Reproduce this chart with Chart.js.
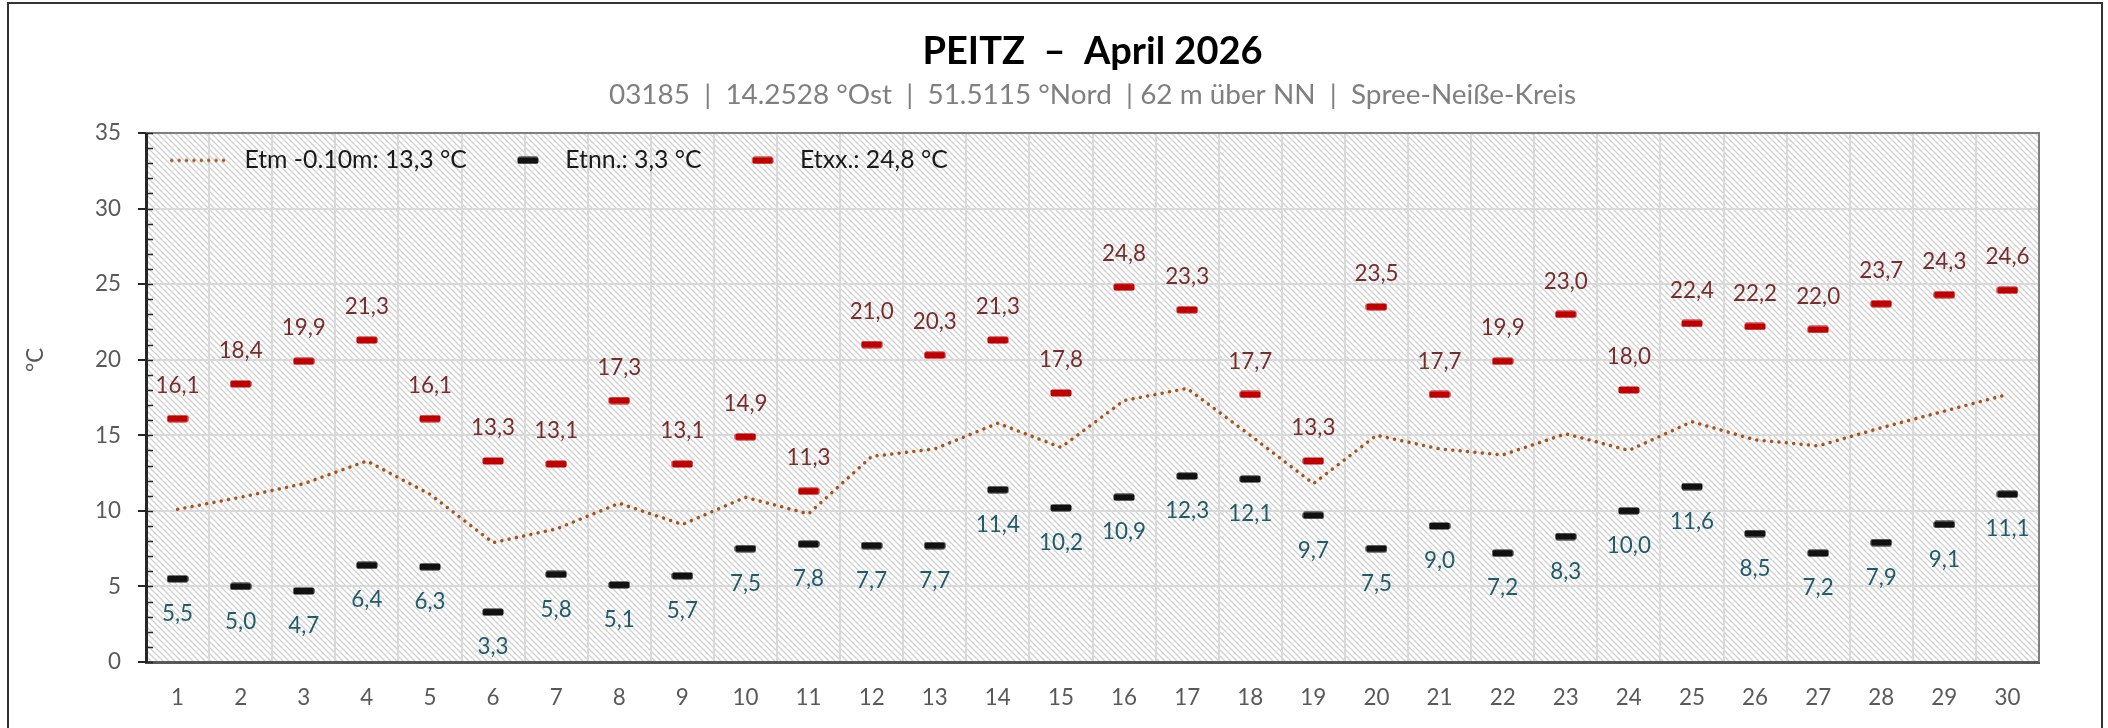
<!DOCTYPE html>
<html>
<head>
<meta charset="utf-8">
<script src="https://cdn.jsdelivr.net/npm/chart.js@4.4.1/dist/chart.umd.min.js"></script>
<style>
  html, body { margin: 0; padding: 0; background: #ffffff; }
  #wrap { position: relative; width: 2108px; height: 728px; }
</style>
</head>
<body>
<div id="wrap"><canvas id="c"></canvas></div>
<script>
// ---------- data ----------
const days = ['1','2','3','4','5','6','7','8','9','10','11','12','13','14','15','16','17','18','19','20','21','22','23','24','25','26','27','28','29','30'];
const etm  = [10.1, 10.9, 11.8, 13.3, 11.1, 7.9, 8.8, 10.5, 9.1, 10.9, 9.8, 13.6, 14.1, 15.8, 14.2, 17.3, 18.1, 15.0, 11.8, 15.0, 14.1, 13.7, 15.1, 14.0, 15.9, 14.7, 14.3, 15.5, 16.6, 17.7];
const etnn = [5.5, 5.0, 4.7, 6.4, 6.3, 3.3, 5.8, 5.1, 5.7, 7.5, 7.8, 7.7, 7.7, 11.4, 10.2, 10.9, 12.3, 12.1, 9.7, 7.5, 9.0, 7.2, 8.3, 10.0, 11.6, 8.5, 7.2, 7.9, 9.1, 11.1];
const etxx = [16.1, 18.4, 19.9, 21.3, 16.1, 13.3, 13.1, 17.3, 13.1, 14.9, 11.3, 21.0, 20.3, 21.3, 17.8, 24.8, 23.3, 17.7, 13.3, 23.5, 17.7, 19.9, 23.0, 18.0, 22.4, 22.2, 22.0, 23.7, 24.3, 24.6];
const seriesNames = ['Etm -0.10m: 13,3 °C', 'Etnn.: 3,3 °C', 'Etxx.: 24,8 °C'];
const yMin = 0, yMax = 35, yStep = 5, yMinorStep = 1;
const titleText = 'PEITZ  –  April 2026';
const subtitleText = '03185  |  14.2528 °Ost  |  51.5115 °Nord  | 62 m über NN  |  Spree-Neiße-Kreis';
const yAxisTitle = '°C';

// ---------- font calibration ----------
const FAM = 'Lato';
const mctx = document.createElement('canvas').getContext('2d');
function fitSize(text, weight, target) {
  mctx.font = weight + ' 100px ' + FAM;
  return Math.round(1000 * target / mctx.measureText(text).width) / 10;
}
const FT = fitSize(titleText, 'bold', 340);
const FS = fitSize(subtitleText, 'normal', 968);
const FL = fitSize(seriesNames[0], 'normal', 223);
const FK = fitSize('30', 'normal', 26);
const FV = fitSize('24,8', 'normal', 44);

// ---------- colours ----------
const C_MEAN = '#A9531A', C_MIN = '#111111', C_MAX = '#C00000';
const C_MINLBL = '#1F5B6B', C_MAXLBL = '#7A2C2C';
const C_TICK = '#595959', C_GRID = '#D9D9D9';

// ---------- marker images ----------
function roundRect(g, x, y, w, h, r) {
  g.beginPath();
  g.moveTo(x + r, y); g.lineTo(x + w - r, y); g.quadraticCurveTo(x + w, y, x + w, y + r);
  g.lineTo(x + w, y + h - r); g.quadraticCurveTo(x + w, y + h, x + w - r, y + h);
  g.lineTo(x + r, y + h); g.quadraticCurveTo(x, y + h, x, y + h - r);
  g.lineTo(x, y + r); g.quadraticCurveTo(x, y, x + r, y); g.closePath(); g.fill();
}
function dashImg(color, w, h, cx) {
  const c = document.createElement('canvas'); c.width = w; c.height = h;
  const g = c.getContext('2d'); g.fillStyle = color;
  roundRect(g, cx - 10.5, h / 2 - 3.5, 21, 7, 2);
  return c;
}
const LW = Math.round(83 - FL / 2);
function dotLineImg(color, w, h) {
  const c = document.createElement('canvas'); c.width = w; c.height = h;
  const g = c.getContext('2d'); g.fillStyle = color;
  for (let x = 9; x + 3.5 <= w; x += 7.4) {
    g.beginPath(); g.arc(x + 1.75, h / 2, 1.75, 0, Math.PI * 2); g.fill();
  }
  return c;
}
const ptMin = dashImg(C_MIN, 22, 8, 11);
const ptMax = dashImg(C_MAX, 22, 8, 11);
const legendImgs = [dotLineImg(C_MEAN, LW, 8), dashImg(C_MIN, LW, 8, 46), dashImg(C_MAX, LW, 8, 46)];

// ---------- hatch pattern ----------
const pc = document.createElement('canvas'); pc.width = 6; pc.height = 6;
const pg = pc.getContext('2d');
pg.fillStyle = '#ffffff'; pg.fillRect(0, 0, 6, 6);
pg.strokeStyle = '#D0D0D0'; pg.lineWidth = 1.3;
pg.beginPath();
pg.moveTo(-1, -1); pg.lineTo(7, 7);
pg.moveTo(-1, 5); pg.lineTo(1, 7);
pg.moveTo(5, -1); pg.lineTo(7, 1);
pg.stroke();

const fmt = v => v.toFixed(1).replace('.', ',');

// ---------- plugins ----------
const decor = {
  id: 'decor',
  beforeLayout(chart) {
    const lg = chart.legend;
    if (lg && !lg._inArea) {
      const f = lg.fit;
      lg.fit = function () { f.call(this); this.height = 0; };
      lg._inArea = true;
    }
  },
  afterLayout(chart) {
    const lg = chart.legend, ca = chart.chartArea;
    if (!lg) return;
    lg.left = ca.left; lg.right = ca.right; lg.width = ca.right - ca.left;
    lg.top = ca.top; lg.bottom = ca.top + 60; lg.height = 60;
  },
  beforeDraw(chart) {
    const {ctx, chartArea: a} = chart;
    ctx.save();
    ctx.fillStyle = ctx.createPattern(pc, 'repeat');
    ctx.fillRect(a.left, a.top, a.right - a.left, a.bottom - a.top);
    ctx.restore();
  },
  beforeDatasetsDraw(chart) {
    const {ctx, chartArea: a} = chart;
    const y = chart.scales.y;
    ctx.save();
    ctx.strokeStyle = '#7F7F7F'; ctx.lineWidth = 2;
    ctx.beginPath();
    ctx.moveTo(a.left, a.top); ctx.lineTo(a.right, a.top); ctx.lineTo(a.right, a.bottom);
    ctx.stroke();
    ctx.strokeStyle = '#262626'; ctx.lineWidth = 1.6;
    ctx.beginPath();
    for (let v = yMin; v <= yMax; v += yMinorStep) {
      const py = Math.round(y.getPixelForValue(v)) + 0.5;
      ctx.moveTo(a.left, py); ctx.lineTo(a.left + 7, py);
    }
    ctx.stroke();
    ctx.restore();
  },
  afterDatasetsDraw(chart) {
    const {ctx} = chart;
    ctx.save();
    ctx.font = FV + 'px ' + FAM;
    ctx.textAlign = 'center'; ctx.textBaseline = 'middle';
    ctx.fillStyle = C_MAXLBL;
    chart.getDatasetMeta(2).data.forEach((p, i) => ctx.fillText(fmt(etxx[i]), p.x, p.y - 33));
    ctx.fillStyle = C_MINLBL;
    chart.getDatasetMeta(1).data.forEach((p, i) => ctx.fillText(fmt(etnn[i]), p.x, p.y + 35));
    ctx.restore();
  },
  afterDraw(chart) {
    const {ctx} = chart;
    ctx.save();
    ctx.translate(36, 360); ctx.rotate(-Math.PI / 2);
    ctx.font = FK + 'px ' + FAM; ctx.fillStyle = C_TICK;
    ctx.textAlign = 'center'; ctx.textBaseline = 'middle';
    ctx.fillText(yAxisTitle, 0, 0);
    ctx.restore();
    ctx.save();
    ctx.strokeStyle = '#333333'; ctx.lineWidth = 2;
    ctx.beginPath();
    ctx.moveTo(8, 740); ctx.lineTo(8, 3); ctx.lineTo(2102, 3); ctx.lineTo(2102, 740);
    ctx.stroke();
    ctx.restore();
  }
};

Chart.defaults.font.family = FAM;

const chart = new Chart(document.getElementById('c'), {
  type: 'line',
  data: {
    labels: days,
    datasets: [
      { label: seriesNames[0], data: etm, borderColor: C_MEAN, backgroundColor: C_MEAN,
        borderWidth: 3.5, borderDash: [0.01, 7.4], borderCapStyle: 'round', pointRadius: 0, tension: 0, fill: false },
      { label: seriesNames[1], data: etnn, showLine: false, pointStyle: ptMin, pointRadius: 6,
        borderColor: C_MIN, backgroundColor: C_MIN },
      { label: seriesNames[2], data: etxx, showLine: false, pointStyle: ptMax, pointRadius: 6,
        borderColor: C_MAX, backgroundColor: C_MAX }
    ]
  },
  options: {
    responsive: true,
    maintainAspectRatio: false,
    animation: false,
    devicePixelRatio: 1,
    layout: { padding: { left: 8, right: 69, top: 0, bottom: 0 } },
    plugins: {
      title: {
        display: true, text: titleText, color: '#000000', fullSize: false,
        font: { family: FAM, size: FT, weight: 'bold', lineHeight: 1.2 },
        padding: { top: 52 - 0.6 * FT, bottom: 0 }
      },
      subtitle: {
        display: true, text: subtitleText, color: '#7F7F7F', fullSize: false,
        font: { family: FAM, size: FS, weight: 'normal', lineHeight: 1.2 },
        padding: { top: 95 - 0.6 * FS - (52 + 0.6 * FT), bottom: 133 - (95 + 0.6 * FS) }
      },
      legend: {
        display: true, position: 'top', align: 'start',
        labels: {
          usePointStyle: true, pointStyleWidth: LW, padding: 15, color: '#1A1A1A',
          font: { family: FAM, size: FL },
          generateLabels(ch) {
            const items = Chart.defaults.plugins.legend.labels.generateLabels(ch);
            items.forEach((it, i) => { it.pointStyle = legendImgs[i]; it.fontColor = '#1A1A1A'; });
            return items;
          }
        }
      },
      tooltip: { enabled: false }
    },
    scales: {
      x: {
        type: 'category', offset: true,
        grid: { offset: true, color: C_GRID, lineWidth: 2, drawTicks: false },
        border: { color: '#595959', width: 3 },
        ticks: { color: C_TICK, font: { family: FAM, size: FK }, padding: 36 - 0.6 * FK, maxRotation: 0, autoSkip: false },
        afterFit(s) { s.height = 66; }
      },
      y: {
        type: 'linear', min: yMin, max: yMax,
        ticks: { stepSize: yStep, color: C_TICK, font: { family: FAM, size: FK }, padding: 17 },
        grid: { color: C_GRID, lineWidth: 2, drawTicks: true, tickLength: 8, tickColor: '#262626', tickWidth: 2 },
        border: { color: '#262626', width: 3 },
        afterFit(s) { s.width = 138; }
      }
    }
  },
  plugins: [decor]
});
</script>
</body>
</html>
